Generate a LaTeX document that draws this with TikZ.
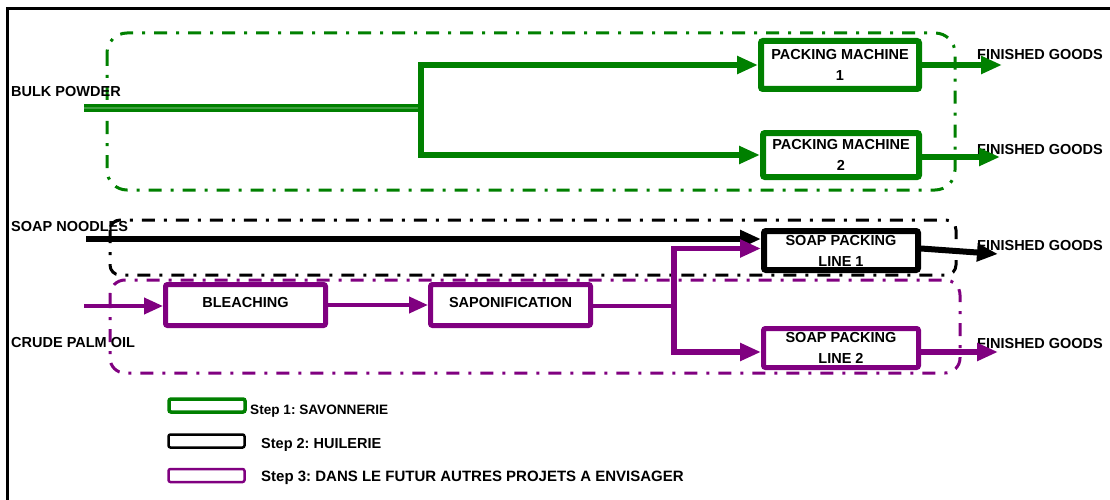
\documentclass[tikz,border=0pt]{standalone}
\usepackage{fontspec}
\setmainfont{Liberation Sans}
\usetikzlibrary{arrows.meta}
\definecolor{pgreen}{RGB}{0,128,0}
\definecolor{ppurple}{RGB}{128,0,128}
\frenchspacing
\begin{document}
\begin{tikzpicture}[x=1pt,y=-1pt,
  every node/.style={font=\bfseries\fontsize{14.5}{21}\selectfont},
  ddot/.style={line width=3pt, dash pattern=on 13pt off 9pt on 3pt off 9pt},
  gbox/.style={draw=pgreen, line width=6pt, rounded corners=2pt, fill=white, align=center, inner sep=0pt},
  bbox/.style={draw=black, line width=6pt, rounded corners=2pt, fill=white, align=center, inner sep=0pt},
  pbox/.style={draw=ppurple, line width=5pt, rounded corners=2pt, fill=white, align=center, inner sep=0pt},
  tip/.style={-{Triangle[length=21pt,width=17pt]}},
  garrow/.style={draw=pgreen, line width=6pt, tip},
  barrow/.style={draw=black, line width=6pt, tip},
  parrow/.style={draw=ppurple, line width=5.5pt, tip},
  pthin/.style={draw=ppurple, line width=4pt, -{Triangle[length=19pt,width=16pt]}},
  lbl/.style={anchor=west, inner sep=0pt},
  legbox/.style={rounded corners=2pt, minimum width=76pt, minimum height=13pt, inner sep=0pt}
]
\useasboundingbox (0,0) rectangle (1110,500);
% frame
\draw[line width=3pt] (7,500) -- (7,9) -- (1110,9);

% containers
\draw[ddot, draw=pgreen, rounded corners=20pt] (107,33) rectangle (955,190);
\draw[ddot, draw=black, rounded corners=10pt] (110,220) rectangle (956,275);
\draw[ddot, draw=ppurple, rounded corners=15pt] (110,280) rectangle (960,373);

% boxes
\node[gbox, minimum width=158pt, minimum height=48pt] (pm1) at (840,65) {PACKING MACHINE\\1};
\node[gbox, minimum width=156pt, minimum height=44pt] (pm2) at (841,155) {PACKING MACHINE\\2};
\node[bbox, minimum width=154pt, minimum height=39pt] (spl1) at (841,250.5) {SOAP PACKING\\LINE 1};
\node[pbox, minimum width=155pt, minimum height=39pt] (spl2) at (841,348) {SOAP PACKING\\LINE 2};
\node[pbox, minimum width=160pt, minimum height=41pt] (bl) at (245.5,305) {\raisebox{5pt}{BLEACHING}};
\node[pbox, minimum width=160pt, minimum height=41pt] (sap) at (510.5,305) {\raisebox{5pt}{SAPONIFICATION}};

% input labels
\node[lbl] (lbp) at (11,92) {BULK POWDER};
\node[lbl] (lsn) at (11,227) {SOAP NOODLES};
\node[lbl] (lcpo) at (11,343) {CRUDE PALM OIL};

% output labels
\node[lbl] (fg1) at (977,55) {FINISHED GOODS};
\node[lbl] (fg2) at (977,150) {FINISHED GOODS};
\node[lbl] (fg3) at (977,246) {FINISHED GOODS};
\node[lbl] (fg4) at (977,344) {FINISHED GOODS};

% green flow
\coordinate (bpin) at (84,108);
\coordinate (jg) at (421,108);
\draw[draw=pgreen, line width=3pt, double=pgreen!75!white, double distance=2pt] (bpin) -- (jg);
\draw[garrow] (jg) |- (pm1.west);
\draw[garrow] (jg) |- (pm2.west);
\coordinate (o1) at (1002,65);
\coordinate (o2) at (1000,157);
\draw[garrow] (pm1.east) -- (o1);
\draw[garrow] ([yshift=-2pt]pm2.east) -- (o2);

% black flow
\coordinate (snin) at (86,239);
\draw[barrow] (snin) -- (snin -| spl1.west);
\coordinate (o3) at (998,254);
\draw[barrow] ([yshift=2pt]spl1.east) -- (o3);

% purple flow
\coordinate (cpoin) at (84,306);
\draw[pthin] (cpoin) -- (cpoin -| bl.west);
\draw[pthin] (bl.east) -- (sap.west);
\coordinate (jp) at (674,306);
\draw[draw=ppurple, line width=4.5pt] (sap.east |- jp) -- (jp);
\draw[parrow] (jp) |- ([yshift=2pt]spl1.west);
\draw[parrow] (jp) |- ([yshift=-4pt]spl2.west);
\coordinate (o4) at (998,352);
\draw[parrow] ([yshift=-4pt]spl2.east) -- (o4);

% legend
\node[legbox, draw=pgreen, line width=3.5pt] (lg1) at (207,405.5) {};
\node[legbox, draw=black, line width=2.5pt] (lg2) at (206.5,441) {};
\node[legbox, draw=ppurple, line width=2.5pt] (lg3) at (206.5,475.5) {};
\node[lbl, font=\bfseries\fontsize{13.6}{16}\selectfont] (lt1) at (250,411) {Step 1: SAVONNERIE};
\node[lbl] (lt2) at (261,445) {Step 2: HUILERIE};
\node[lbl, font=\bfseries\fontsize{15}{18}\selectfont] (lt3) at (261,478) {Step 3: DANS LE FUTUR AUTRES PROJETS A ENVISAGER};
\end{tikzpicture}
\end{document}
